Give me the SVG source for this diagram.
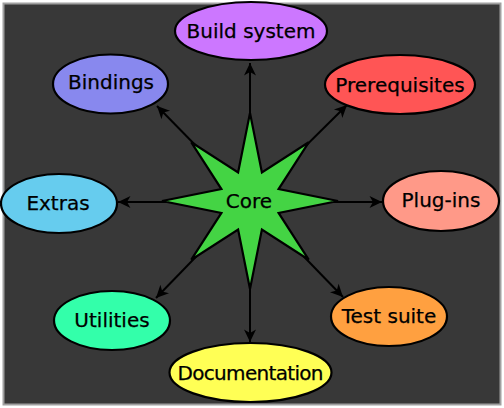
<svg xmlns="http://www.w3.org/2000/svg" width="504" height="408" viewBox="0 0 504 408">
<defs>
<style>
.node ellipse{stroke:#000;stroke-width:2.2}
.node text,.core text{font-family:"DejaVu Sans",sans-serif;font-size:20px;fill:#000;stroke:#000;stroke-width:0.25;text-anchor:middle;dominant-baseline:central}
#connectors line{stroke:#000;stroke-width:2}
</style>
<marker id="arr" viewBox="-14 -7 16 14" refX="0" refY="0" markerWidth="16" markerHeight="14" markerUnits="userSpaceOnUse" orient="auto">
<path d="M0,0 L-12.5,-6 L-9,0 L-12.5,6 Z" fill="#000"/>
</marker>
</defs>
<rect x="0" y="0" width="504" height="408" fill="#ffffff"/>
<rect x="3.5" y="3.5" width="497" height="401" fill="#383838" stroke="#a0a0a0" stroke-width="2"/>
<g id="connectors">
<line x1="250" y1="201" x2="250" y2="63" marker-end="url(#arr)"/>
<line x1="250" y1="201" x2="347" y2="105" marker-end="url(#arr)"/>
<line x1="250" y1="202" x2="382" y2="202" marker-end="url(#arr)"/>
<line x1="250" y1="201" x2="343" y2="297" marker-end="url(#arr)"/>
<line x1="250" y1="201" x2="250" y2="342" marker-end="url(#arr)"/>
<line x1="250" y1="201" x2="156" y2="298" marker-end="url(#arr)"/>
<line x1="250" y1="202" x2="118" y2="202" marker-end="url(#arr)"/>
<line x1="250" y1="201" x2="157" y2="106" marker-end="url(#arr)"/>
</g>
<g id="core" class="core">
<polygon points="338,201 278.6,212.9 308.7,259.7 261.9,229.6 250,289 238.1,229.6 191.3,259.7 221.4,212.9 162,201 221.4,189.1 191.3,142.3 238.1,172.4 250,113 261.9,172.4 308.7,142.3 278.6,189.1" fill="#44d444" stroke="#000" stroke-width="2.2" stroke-linejoin="miter"/>
<text x="249" y="201">Core</text>
</g>
<g id="build" class="node"><ellipse cx="251" cy="31" rx="76" ry="29" fill="#cc77ff"/><text x="251" y="31">Build system</text></g>
<g id="prereq" class="node"><ellipse cx="400" cy="84.5" rx="75" ry="29.5" fill="#ff5555"/><text x="400" y="84.5">Prerequisites</text></g>
<g id="plugins" class="node"><ellipse cx="441" cy="201" rx="58" ry="30" fill="#ff9988"/><text x="441" y="200">Plug-ins</text></g>
<g id="testsuite" class="node"><ellipse cx="389" cy="316.5" rx="58" ry="29.5" fill="#ffa040"/><text x="389" y="316">Test suite</text></g>
<g id="documentation" class="node"><ellipse cx="250.5" cy="372.5" rx="81" ry="29.5" fill="#ffff55"/><text x="250.5" y="373" textLength="146">Documentation</text></g>
<g id="utilities" class="node"><ellipse cx="112" cy="320.5" rx="58" ry="29.5" fill="#33ffaa"/><text x="112" y="320">Utilities</text></g>
<g id="extras" class="node"><ellipse cx="59" cy="203.5" rx="58" ry="29.5" fill="#66ccee"/><text x="58" y="203">Extras</text></g>
<g id="bindings" class="node"><ellipse cx="110.5" cy="84" rx="57.5" ry="29.5" fill="#8888ee"/><text x="111" y="82">Bindings</text></g>
</svg>
